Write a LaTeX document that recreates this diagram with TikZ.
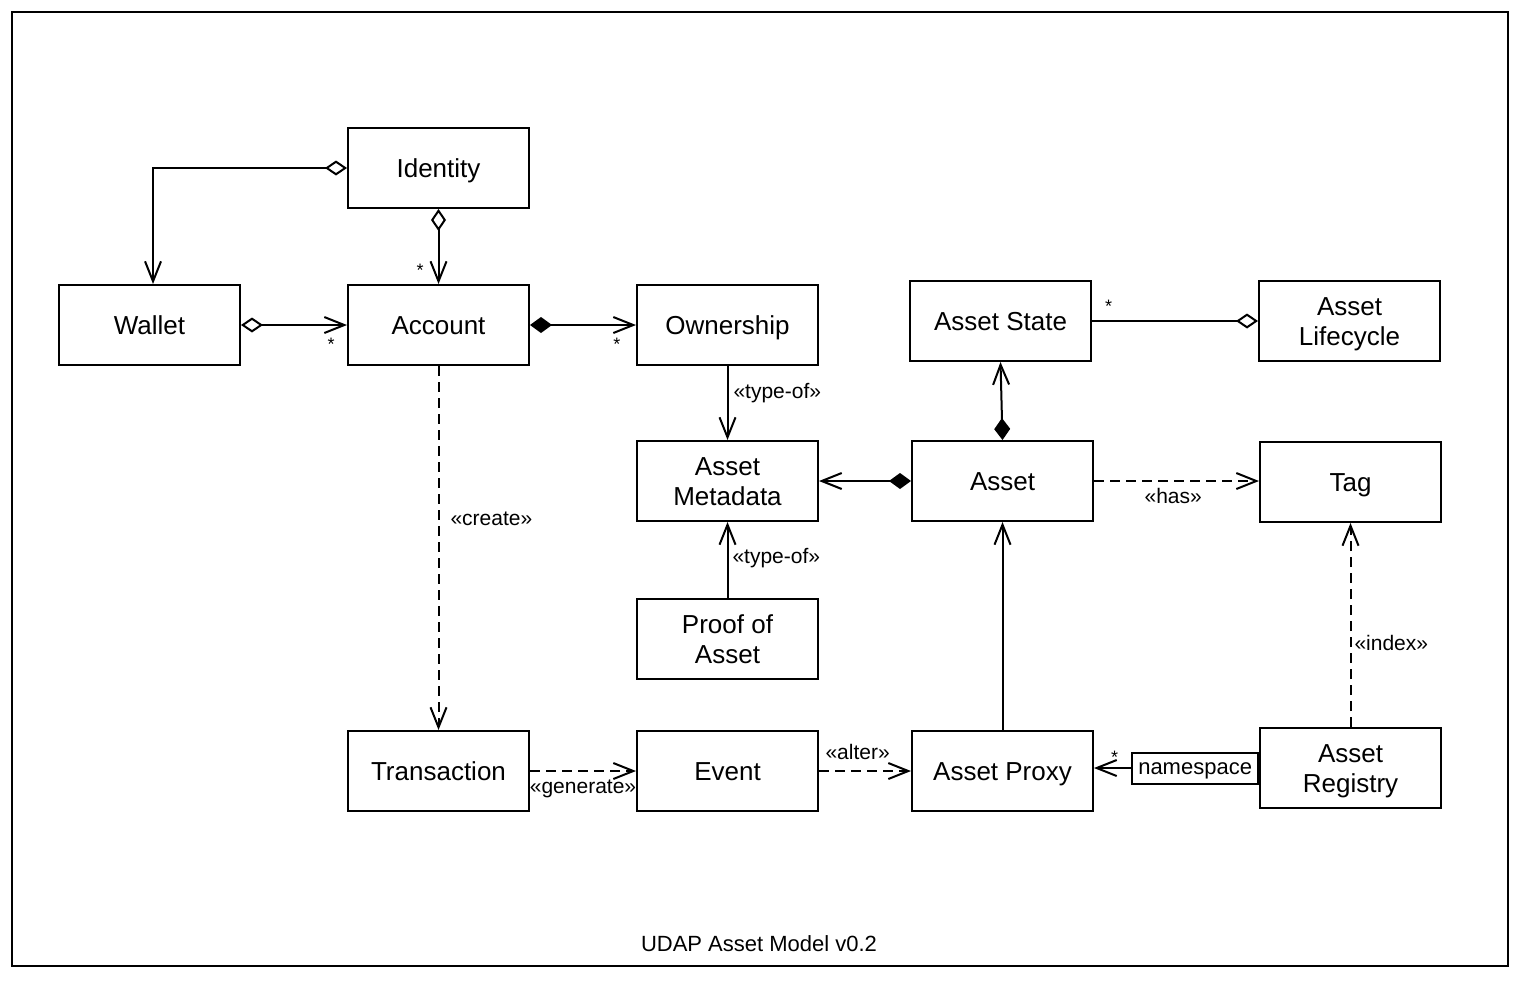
\documentclass[tikz,border=0pt]{standalone}
\usepackage{fontspec}
\setmainfont{Liberation Sans}
\usetikzlibrary{arrows.meta,calc}
\tikzstyle{classbox}=[draw,line width=2pt,minimum width=181pt,minimum height=80pt,align=center,font=\fontsize{26}{30}\selectfont]
\tikzstyle{assoc}=[line width=2pt]
\tikzstyle{depend}=[line width=2pt,dash pattern=on 10pt off 6pt]
\tikzstyle{stereo}=[font=\fontsize{21}{24}\selectfont,inner sep=1pt]
\tikzstyle{mult}=[font=\fontsize{18}{20}\selectfont,inner sep=0pt]
\tikzset{agg/.tip={Diamond[open,length=22pt,width=15pt]},comp/.tip={Diamond[length=22pt,width=16pt]}}
\newcommand{\drawclass}[3]{
\node[classbox] (#1) at (#2) {\rule{0pt}{24pt}#3\vphantom{y}};
}

\begin{document}
\begin{tikzpicture}[x=1pt,y=-1pt,>={Straight Barb[length=20pt,width=16pt]}] % 1 unit = 1 pixel of the sketch, y runs down
\useasboundingbox (0,0) rectangle (1522,980);
\draw[line width=2pt] (12,12) rectangle (1508,966);
\drawclass{identity}{438.5,168}{Identity} % name, centre, text
\drawclass{wallet}{149.5,325}{Wallet}
\drawclass{account}{438.5,325}{Account}
\drawclass{ownership}{727.5,325}{Ownership}
\drawclass{assetstate}{1000.5,321}{Asset State}
\drawclass{lifecycle}{1349.5,321}{Asset\\Lifecycle}
\drawclass{metadata}{727.5,481}{Asset\\Metadata}
\drawclass{asset}{1002.5,481}{Asset}
\drawclass{tag}{1350.5,482}{Tag}
\drawclass{proof}{727.5,639}{Proof of\\Asset}
\drawclass{transaction}{438.5,771}{Transaction}
\drawclass{event}{727.5,771}{Event}
\drawclass{proxy}{1002.5,771}{Asset Proxy}
\drawclass{registry}{1350.5,768}{Asset\\Registry}
\node[draw,line width=2pt,font=\fontsize{22}{24}\selectfont,inner xsep=6pt,inner ysep=0pt,text height=17pt,text depth=5pt,minimum height=31pt,anchor=east] (namespace) at (registry.west) {namespace};
\node[font=\fontsize{22}{24}\selectfont] (title) at (759,944) {UDAP Asset Model v0.2};

\draw[assoc,agg->] (identity.west) -| ([xshift=3.5pt]wallet.north);
\draw[assoc,agg->] (identity.south) -- node[mult,pos=0.82,left=14pt] (m1) {*} (account.north);
\draw[assoc,agg->] (wallet.east) -- node[mult,pos=0.85,below=12pt] (m2) {*} (account.west);
\draw[assoc,comp->] (account.east) -- node[mult,pos=0.82,below=12pt] (m3) {*} (ownership.west);
\draw[depend,->] (account.south) -- node[stereo,pos=0.42,right=10pt] (l1) {«create»} (transaction.north);
\draw[assoc,->] (ownership.south) -- node[stereo,pos=0.36,right=4pt] (l2) {«type-of»} (metadata.north);
\draw[assoc,->] (proof.north) -- node[stereo,pos=0.53,right=3pt] (l3) {«type-of»} (metadata.south);
\draw[assoc,comp->] (asset.west) -- (metadata.east);
\draw[assoc,comp->] (asset.north) -- (assetstate.south);
\draw[assoc,-agg] (assetstate.east) -- node[mult,pos=0.1,above=8pt] (m4) {*} (lifecycle.west);
\draw[depend,->] (asset.east) -- node[stereo,pos=0.48,below=5pt] (l4) {«has»} (asset.east -| tag.west);
\draw[depend,->] (registry.north) -- node[stereo,pos=0.41,right=2pt] (l5) {«index»} (tag.south);
\draw[depend,->] (transaction.east) -- node[stereo,below=7pt] (l6) {«generate»} (event.west);
\draw[depend,->] (event.east) -- node[stereo,pos=0.42,above=9pt] (l7) {«alter»} (proxy.west);
\draw[assoc,->] (proxy.north) -- (asset.south);
\draw[assoc,->] (namespace.west) -- node[mult,pos=0.45,above=4pt] (m5) {*} (namespace.west -| proxy.east);
\end{tikzpicture}
\end{document}
